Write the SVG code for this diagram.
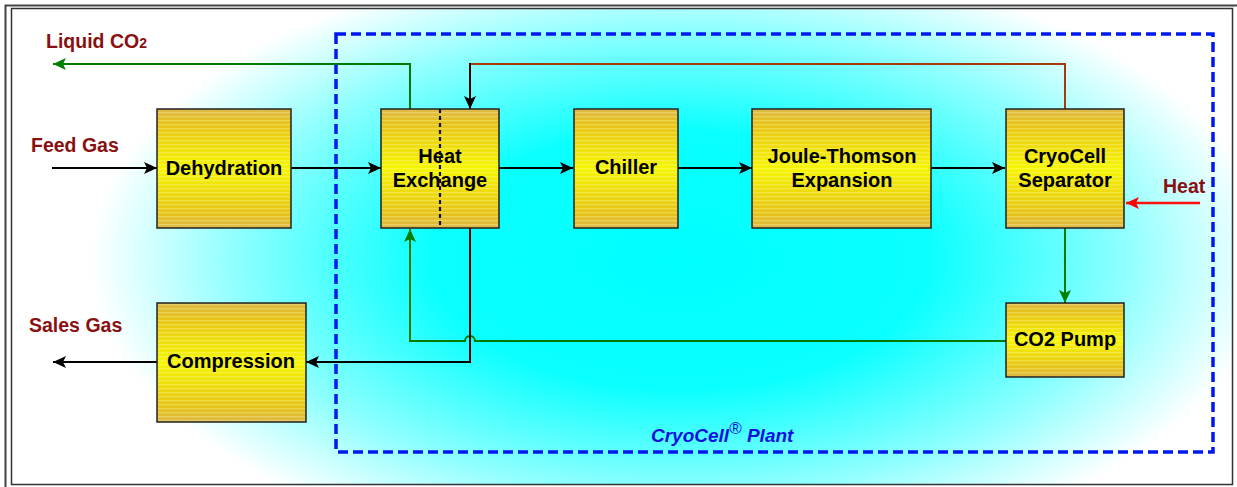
<svg xmlns="http://www.w3.org/2000/svg" width="1237" height="487" viewBox="0 0 1237 487">
<defs>
<radialGradient id="bg" gradientUnits="userSpaceOnUse" cx="680" cy="260" r="620" gradientTransform="translate(680 260) scale(1 0.52) translate(-680 -260)">
<stop offset="0" stop-color="#00FFFF"/>
<stop offset="0.4" stop-color="#0AFFFF"/>
<stop offset="0.72" stop-color="#90FFFF"/>
<stop offset="0.95" stop-color="#FFFFFF"/>
</radialGradient>
<linearGradient id="gold" x1="0" y1="0" x2="0" y2="1">
<stop offset="0" stop-color="#DDB848"/>
<stop offset="0.12" stop-color="#E6C21A"/>
<stop offset="0.5" stop-color="#F6F600"/>
<stop offset="0.88" stop-color="#E6C21A"/>
<stop offset="1" stop-color="#DDB848"/>
</linearGradient>
<pattern id="stripes" patternUnits="userSpaceOnUse" width="8" height="4">
<rect x="0" y="0" width="8" height="1.3" fill="#FFFFC0" fill-opacity="0.3"/>
</pattern>
<marker id="ab" markerUnits="userSpaceOnUse" markerWidth="14" markerHeight="12" refX="13" refY="6" orient="auto">
<path d="M0,0 L13,6 L0,12 L3,6 Z" fill="#000"/>
</marker>
<marker id="ag" markerUnits="userSpaceOnUse" markerWidth="14" markerHeight="12" refX="13" refY="6" orient="auto">
<path d="M0,0 L13,6 L0,12 L3,6 Z" fill="#008000"/>
</marker>
<marker id="ar" markerUnits="userSpaceOnUse" markerWidth="14" markerHeight="12" refX="13" refY="6" orient="auto">
<path d="M0,0 L13,6 L0,12 L3,6 Z" fill="#FF0000"/>
</marker>
<style>
.box{fill:url(#gold);stroke:#222;stroke-width:1.5}
.st{fill:url(#stripes);stroke:none}
.t{font-family:"Liberation Sans",Arial,sans-serif;font-weight:bold;font-size:20px;fill:#000;text-anchor:middle}
.lbl{font-family:"Liberation Sans",Arial,sans-serif;font-weight:bold;font-size:19.5px;fill:#881010}
.k{fill:none;stroke:#000;stroke-width:2}
.g{fill:none;stroke:#007A00;stroke-width:2}
</style>
</defs>
<rect x="0" y="0" width="1237" height="487" fill="#FFFFFF"/>
<rect x="12" y="9" width="1220" height="475" fill="url(#bg)"/>
<path d="M5.5,487 L5.5,5.5 L1237,5.5" fill="none" stroke="#444" stroke-width="2"/>
<rect x="11.5" y="8.5" width="1221" height="476" fill="none" stroke="#333" stroke-width="1.5"/>
<rect x="336" y="34" width="877" height="418" fill="none" stroke="#0018F0" stroke-width="3.5" stroke-dasharray="10,5"/>

<g id="connectors">
<line x1="52" y1="168" x2="157" y2="168" class="k" marker-end="url(#ab)"/>
<line x1="291" y1="168" x2="381" y2="168" class="k" marker-end="url(#ab)"/>
<line x1="499" y1="168" x2="573" y2="168" class="k" marker-end="url(#ab)"/>
<line x1="678" y1="168" x2="752" y2="168" class="k" marker-end="url(#ab)"/>
<line x1="931" y1="168" x2="1005" y2="168" class="k" marker-end="url(#ab)"/>
<path d="M1065,109 L1065,64 L470,64" fill="none" stroke="#A63A0A" stroke-width="2"/>
<path d="M470,63 L470,109" class="k" marker-end="url(#ab)"/>
<path d="M410,109 L410,64 L53,64" class="g" marker-end="url(#ag)"/>
<line x1="1200" y1="203" x2="1126" y2="203" fill="none" stroke="#FF1010" stroke-width="2.5" marker-end="url(#ar)"/>
<line x1="1065" y1="228" x2="1065" y2="303" class="g" marker-end="url(#ag)"/>
<path d="M1006,341 L475,341 A5,5 0 0 0 465,341 L410,341 L410,229" class="g" marker-end="url(#ag)"/>
<path d="M470,228 L470,362 L306,362" class="k" marker-end="url(#ab)"/>
<line x1="157" y1="362" x2="53" y2="362" class="k" marker-end="url(#ab)"/>
</g>

<g id="dehydration">
<rect class="box" x="157" y="109" width="134" height="119"/>
<rect class="st" x="158" y="110" width="132" height="117"/>
<text class="t" x="224" y="175">Dehydration</text>
</g>
<g id="heat-exchange">
<rect class="box" x="381" y="109" width="118" height="119"/>
<rect class="st" x="382" y="110" width="116" height="117"/>
<text class="t" x="440" y="163">Heat</text>
<text class="t" x="440" y="187">Exchange</text>
<line x1="440" y1="109" x2="440" y2="226" stroke="#111" stroke-width="2.2" stroke-dasharray="4,3"/>
</g>
<g id="chiller">
<rect class="box" x="574" y="109" width="104" height="119"/>
<rect class="st" x="575" y="110" width="102" height="117"/>
<text class="t" x="626" y="174">Chiller</text>
</g>
<g id="joule-thomson">
<rect class="box" x="752" y="109" width="179" height="119"/>
<rect class="st" x="753" y="110" width="177" height="117"/>
<text class="t" x="842" y="163">Joule-Thomson</text>
<text class="t" x="842" y="187">Expansion</text>
</g>
<g id="cryocell-separator">
<rect class="box" x="1006" y="109" width="118" height="119"/>
<rect class="st" x="1007" y="110" width="116" height="117"/>
<text class="t" x="1065" y="163">CryoCell</text>
<text class="t" x="1065" y="187">Separator</text>
</g>
<g id="co2-pump">
<rect class="box" x="1006" y="303" width="118" height="74"/>
<rect class="st" x="1007" y="304" width="116" height="72"/>
<text class="t" x="1065" y="346">CO2 Pump</text>
</g>
<g id="compression">
<rect class="box" x="157" y="303" width="149" height="119"/>
<rect class="st" x="158" y="304" width="147" height="117"/>
<text class="t" x="231" y="368">Compression</text>
</g>

<g id="labels">
<text class="lbl" x="46" y="48">Liquid CO<tspan font-size="14">2</tspan></text>
<text class="lbl" x="31" y="152">Feed Gas</text>
<text class="lbl" x="29" y="332">Sales Gas</text>
<text class="lbl" x="1163" y="193">Heat</text>
<text x="651" y="442" font-family="'Liberation Sans',Arial,sans-serif" font-weight="bold" font-style="italic" font-size="19" fill="#1010E0">CryoCell<tspan font-size="17" font-weight="normal" font-style="normal" dy="-8">®</tspan><tspan dy="8"> Plant</tspan></text>
</g>
</svg>
